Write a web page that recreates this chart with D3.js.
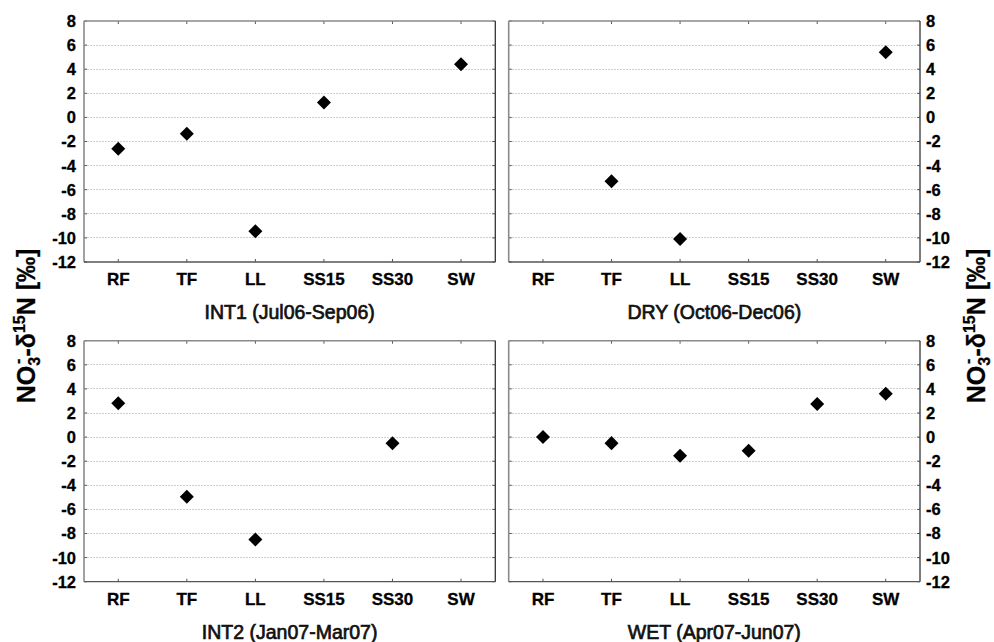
<!DOCTYPE html>
<html><head><meta charset="utf-8">
<script src="https://cdn.jsdelivr.net/npm/d3@7"></script>
<style>
body{margin:0;background:#fff;}
svg{display:block;font-family:"Liberation Sans",Arial,sans-serif;}
</style></head>
<body><svg id="c" width="994" height="642"></svg>
<script>
const categories = ["RF","TF","LL","SS15","SS30","SW"];
const yTicks = [8,6,4,2,0,-2,-4,-6,-8,-10,-12];
const int1 = [-2.6,-1.35,-9.45,1.23,null,4.42];
const dry  = [null,-5.3,-10.1,null,null,5.4];
const int2 = [2.8,-4.95,-8.5,null,-0.52,null];
const wet  = [0.0,-0.5,-1.55,-1.13,2.74,3.6];
const panelTitles = ["INT1 (Jul06-Sep06)","DRY (Oct06-Dec06)","INT2 (Jan07-Mar07)","WET (Apr07-Jun07)"];
const seriesList = [int1, dry, int2, wet];

const svg = d3.select("#c");
const W = 411.3, H = 241;
const panels = [
  {x:84, y:21, side:"left"},
  {x:508.7, y:21, side:"right"},
  {x:84, y:340.7, side:"left"},
  {x:508.7, y:340.7, side:"right"}
];

const x = d3.scaleBand().domain(categories).range([0,W]).padding(0);
const y = d3.scaleLinear().domain([-12,8]).range([H,0]);

panels.forEach((p,i)=>{
  const g = svg.append("g").attr("transform",`translate(${p.x},${p.y})`);
  g.selectAll("line.grid").data(yTicks.filter(t=>t!==8 && t!==-12)).enter().append("line")
    .attr("x1",0).attr("x2",W).attr("y1",d=>y(d)).attr("y2",d=>y(d))
    .attr("stroke","#cfcfcf").attr("stroke-width",1).attr("stroke-dasharray","2,1")
    .attr("shape-rendering","crispEdges");
  const tl = 3;
  g.selectAll("line.yt").data(yTicks).enter().append("line")
    .attr("x1",0).attr("x2",tl).attr("y1",d=>y(d)).attr("y2",d=>y(d)).attr("stroke","#555");
  g.selectAll("line.yt2").data(yTicks).enter().append("line")
    .attr("x1",W-tl).attr("x2",W).attr("y1",d=>y(d)).attr("y2",d=>y(d)).attr("stroke","#555");
  g.selectAll("line.xt").data(categories).enter().append("line")
    .attr("x1",d=>x(d)+x.bandwidth()/2).attr("x2",d=>x(d)+x.bandwidth()/2)
    .attr("y1",0).attr("y2",tl).attr("stroke","#555");
  g.selectAll("line.xt2").data(categories).enter().append("line")
    .attr("x1",d=>x(d)+x.bandwidth()/2).attr("x2",d=>x(d)+x.bandwidth()/2)
    .attr("y1",H-tl).attr("y2",H).attr("stroke","#555");
  g.append("line").attr("x1",0).attr("x2",W).attr("y1",0).attr("y2",0).attr("stroke","#8a8a8a").attr("stroke-width",1.6);
  g.append("line").attr("x1",0).attr("x2",0).attr("y1",0).attr("y2",H).attr("stroke","#8a8a8a").attr("stroke-width",1.6);
  g.append("line").attr("x1",W).attr("x2",W).attr("y1",0).attr("y2",H).attr("stroke","#333").attr("stroke-width",1.3);
  g.append("line").attr("x1",0).attr("x2",W).attr("y1",H).attr("y2",H).attr("stroke","#555").attr("stroke-width",1.3);

  const left = p.side==="left";
  g.selectAll("text.yl").data(yTicks).enter().append("text")
    .attr("x", left ? -8 : W+6).attr("y",d=>y(d)).attr("dy","0.36em")
    .attr("text-anchor", left ? "end":"start")
    .attr("font-size",16.5).attr("font-weight","bold").attr("stroke","#000").attr("stroke-width",0.3).text(d=>d);
  g.selectAll("text.xl").data(categories).enter().append("text")
    .attr("x",d=>x(d)+x.bandwidth()/2).attr("y",H+23)
    .attr("text-anchor","middle").attr("font-size",17).attr("font-weight","bold").attr("stroke","#000").attr("stroke-width",0.3).text(d=>d);
  g.append("text").attr("x",W/2).attr("y",H+57).attr("text-anchor","middle")
    .attr("font-size",19.5).attr("fill","#111").attr("stroke","#111").attr("stroke-width",0.7)
    .text(panelTitles[i]);
  const data = categories.map((c,k)=>({c, v:seriesList[i][k]})).filter(d=>d.v!==null);
  g.selectAll("path.pt").data(data).enter().append("path")
    .attr("transform",d=>`translate(${x(d.c)+x.bandwidth()/2},${y(d.v)})`)
    .attr("d", d3.symbol().type(d3.symbolDiamond2).size(125))
    .attr("fill","#000");
});

function yTitle(cx, cy){
  const t = svg.append("text").attr("transform",`translate(${cx},${cy}) rotate(-90)`)
    .attr("text-anchor","middle").attr("font-size",25).attr("font-weight","bold")
    .attr("stroke","#000").attr("stroke-width",0.3);
  t.append("tspan").text("NO");
  t.append("tspan").attr("font-size",16).attr("dy",5).text("3");
  t.append("tspan").attr("font-size",16).attr("dx",-7).attr("dy",-17).text("-");
  t.append("tspan").attr("dx",2).attr("dy",12).text("-δ");
  t.append("tspan").attr("font-size",16).attr("dy",-10).text("15");
  t.append("tspan").attr("dy",10).text("N [‰]");
}
yTitle(35, 326);
yTitle(985, 326);
</script></body></html>
